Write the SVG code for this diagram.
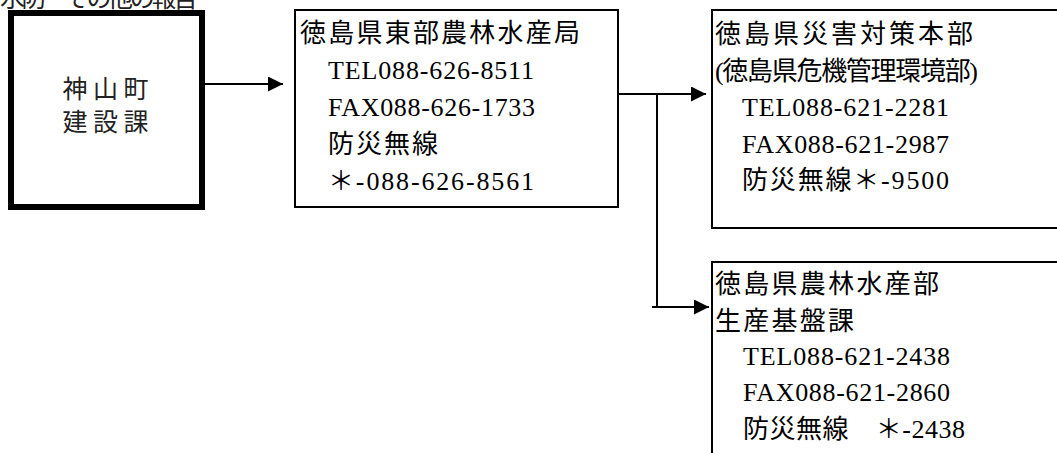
<svg xmlns="http://www.w3.org/2000/svg" width="1057" height="453" viewBox="0 0 1057 453">
<style>
.box{fill:#fff;stroke:#000;stroke-width:2}
.thick{fill:#fff;stroke:#000;stroke-width:6}
.m{font-family:"Liberation Serif","Noto Sans CJK JP",serif;font-size:26px;fill:#000}
.g{font-family:"Noto Sans CJK JP","Noto Sans CJK SC",sans-serif;font-size:25px;fill:#222}
.conn line{stroke:#000;stroke-width:2;fill:none}
</style>
<defs>
<marker id="ah" markerUnits="userSpaceOnUse" markerWidth="16" markerHeight="16" refX="15" refY="7.5" orient="auto">
<path d="M0,0 L15,7.5 L0,15 z" fill="#000"/>
</marker>
</defs>
<rect width="1057" height="453" fill="#fff"/>
<text class="g" x="0" y="7" font-size="22" textLength="198">水防・その他の報告</text>
<g id="node-kamiyama">
<rect class="thick" x="11" y="13" width="191" height="194"/>
<text class="g" x="105.5" y="98" text-anchor="middle" textLength="86">神山町</text>
<text class="g" x="105.5" y="131" text-anchor="middle" textLength="86">建設課</text>
</g>
<g id="node-tobu">
<rect class="box" x="295" y="10" width="323" height="197"/>
<text class="m" x="300" y="42" textLength="280">徳島県東部農林水産局</text>
<text class="m" x="328" y="79" textLength="206">TEL088-626-8511</text>
<text class="m" x="328" y="116" textLength="207">FAX088-626-1733</text>
<text class="m" x="328" y="153" textLength="110">防災無線</text>
<text class="m" x="328" y="190" textLength="206">＊-088-626-8561</text>
</g>
<g id="node-saigai">
<rect class="box" x="712" y="10" width="360" height="218"/>
<text class="m" x="715" y="43" textLength="258">徳島県災害対策本部</text>
<text class="m" x="715" y="80" textLength="263">(徳島県危機管理環境部)</text>
<text class="m" x="742" y="116" textLength="207">TEL088-621-2281</text>
<text class="m" x="742" y="153" textLength="207">FAX088-621-2987</text>
<text class="m" x="742" y="189" textLength="207">防災無線＊-9500</text>
</g>
<g id="node-norin">
<rect class="box" x="712" y="262" width="360" height="220"/>
<text class="m" x="715" y="293" textLength="224">徳島県農林水産部</text>
<text class="m" x="715" y="330" textLength="139">生産基盤課</text>
<text class="m" x="743" y="365" textLength="207">TEL088-621-2438</text>
<text class="m" x="743" y="401" textLength="207">FAX088-621-2860</text>
<text class="m" x="743" y="438" textLength="222">防災無線　＊-2438</text>
</g>
<g id="connectors" class="conn">
<line x1="205" y1="84" x2="283" y2="84" marker-end="url(#ah)"/>
<line x1="618" y1="94" x2="706" y2="94" marker-end="url(#ah)"/>
<line x1="657" y1="94" x2="657" y2="308"/>
<line x1="652" y1="307" x2="709" y2="307" marker-end="url(#ah)"/>
</g>
</svg>
